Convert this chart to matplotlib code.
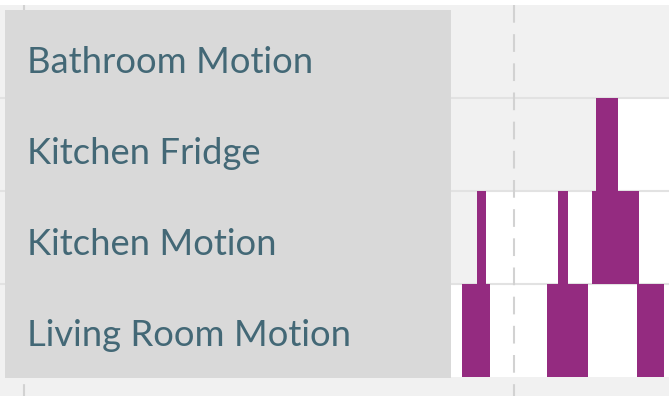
import matplotlib
matplotlib.use('Agg')
import matplotlib.pyplot as plt
from matplotlib.patches import Rectangle

# sensor rows, top to bottom
sensors = ['Bathroom Motion', 'Kitchen Fridge', 'Kitchen Motion', 'Living Room Motion']

# "on" periods, minutes after the first grid line
fridge_on = [(35.02, 36.35)]
kitchen_motion_on = [(27.72, 28.27), (32.67, 33.31), (34.76, 37.67)]
living_motion_on = [(26.80, 28.53), (32.00, 34.51), (37.51, 39.20)]
events = [[], fridge_on, kitchen_motion_on, living_motion_on]

# time from which each sensor reports (white background), None = no data
known_from = [None, 36.35, 27.72, 20.0]

# dashed time grid
grid_times = [0, 30]

bar_color = '#942b80'
text_color = '#436876'

fig = plt.figure(figsize=(6.69, 4.0), dpi=100)
fig.patch.set_facecolor('white')
ax = fig.add_axes([0, 4.4 / 400, 1, 390.6 / 400])
ax.set_facecolor('#f1f1f1')

# known-state backgrounds
for i, start in enumerate(known_from):
    if start is not None:
        ax.barh(i + 0.5, 100, left=start, height=1, color='white', zorder=1)

# row separators
for i in range(1, len(sensors)):
    ax.axhline(i, color='#e2e2e2', lw=1.5, zorder=2)

# on periods
for i, periods in enumerate(events):
    for start, end in periods:
        ax.barh(i + 0.5, end - start, left=start, height=1, color=bar_color,
                zorder=3)

# dashed grid lines
ax.vlines(grid_times, 0, 4.2, color='#d2d2d2', lw=1.5,
          linestyle=(0, (8.5, 5.5)), zorder=4)

ax.set_xlim(-24 / 16.333, 645 / 16.333)
ax.set_ylim(4.2, 0)
ax.set_xticks([])
ax.set_yticks([])
for s in ax.spines.values():
    s.set_visible(False)

# label panel on top
fig.add_artist(Rectangle((5 / 669, 22 / 400), 446 / 669, 368 / 400,
                         transform=fig.transFigure, facecolor='#d9d9d9',
                         edgecolor='none', zorder=5))
baselines = [73, 164, 255, 346]
for name, yb in zip(sensors, baselines):
    fig.text(27 / 669, 1 - yb / 400, name, fontsize=26.2, family='Lato',
             fontweight='normal', color=text_color, va='baseline', ha='left',
             zorder=6)

fig.savefig('out.png', dpi=100, facecolor='white')
